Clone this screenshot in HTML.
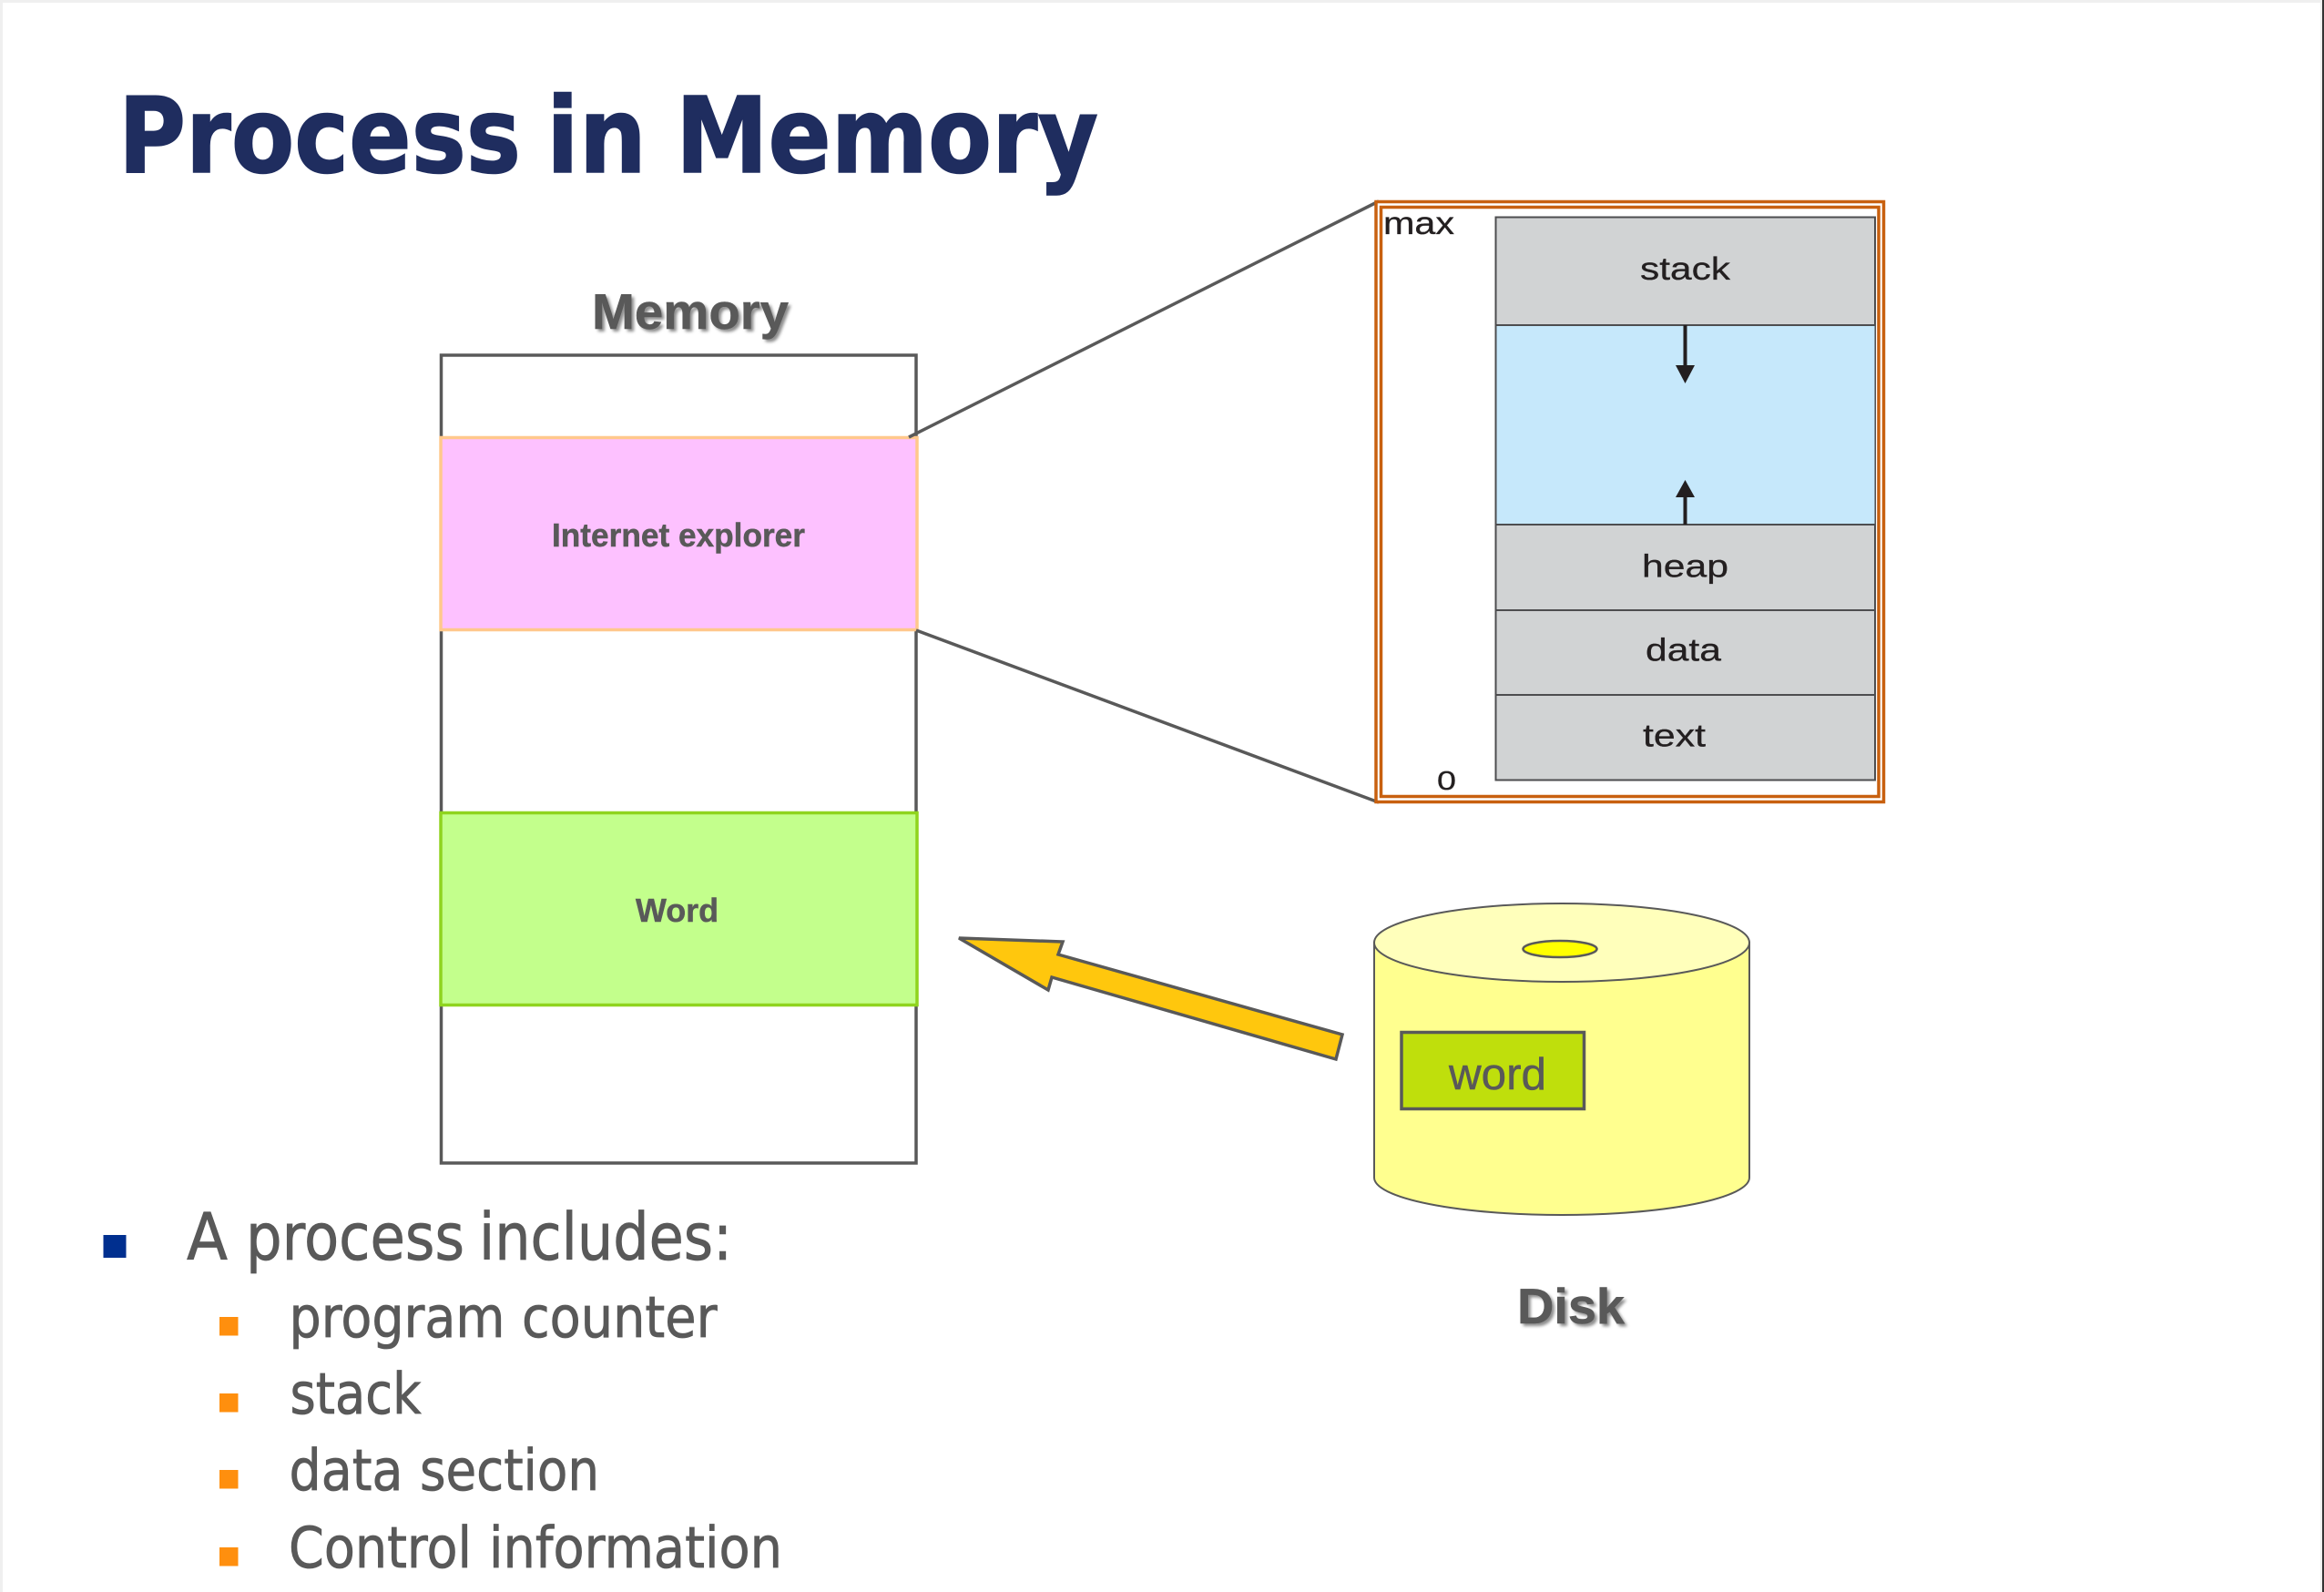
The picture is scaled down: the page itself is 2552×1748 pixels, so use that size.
<!DOCTYPE html>
<html>
<head>
<meta charset="utf-8">
<title>Process in Memory</title>
<style>
html,body{margin:0;padding:0;background:#fff;width:2552px;height:1748px;overflow:hidden}
svg{display:block}
text{white-space:pre}
.t{font-family:"DejaVu Sans",sans-serif;font-weight:bold;font-size:115px;fill:#1f2d5f;stroke:#1f2d5f;stroke-width:1.5px}
.v{font-family:"DejaVu Sans",sans-serif;fill:#595959;stroke:#595959;stroke-width:.8px}
.s{font-family:"Liberation Sans",sans-serif;fill:#231f20;font-size:35px;stroke:#231f20;stroke-width:.3px}
.b{font-family:"Liberation Sans",sans-serif;font-weight:bold;fill:#595959;stroke:#595959;stroke-width:.5px}
</style>
</head>
<body>
<svg xmlns="http://www.w3.org/2000/svg" width="2552" height="1748" viewBox="0 0 2552 1748">
<defs>
<filter id="sh" x="-10%" y="-20%" width="120%" height="150%"><feGaussianBlur stdDeviation="1.5"/></filter>
</defs>
<rect x="0" y="0" width="2552" height="1748" fill="#ffffff"/>
<rect x="0" y="0" width="2552" height="3" fill="#efefef"/>
<rect x="0" y="0" width="3" height="1748" fill="#efefef"/>
<rect x="2548" y="0" width="2" height="1748" fill="#efefef"/>
<rect x="2550" y="0" width="2" height="1748" fill="#333333"/>

<text x="130" y="189" class="t" textLength="442" lengthAdjust="spacingAndGlyphs">Process</text>
<text x="600" y="189" class="t" textLength="110" lengthAdjust="spacingAndGlyphs">in</text>
<text x="742" y="189" class="t" textLength="464" lengthAdjust="spacingAndGlyphs">Memory</text>

<text x="653" y="364" font-family="'Liberation Sans',sans-serif" font-weight="bold" font-size="55" fill="#8c8c8c" filter="url(#sh)" textLength="216" lengthAdjust="spacingAndGlyphs">Memory</text>
<text x="650" y="361" class="b" font-size="55" textLength="216" lengthAdjust="spacingAndGlyphs">Memory</text>

<rect x="484.5" y="390" width="521.5" height="887" fill="#ffffff" stroke="#595959" stroke-width="3.5"/>
<rect x="484" y="480.5" width="523" height="211" fill="#fdc1ff" stroke="#ffc88c" stroke-width="3.5"/>
<text x="606" y="600" class="b" font-size="36" textLength="278" lengthAdjust="spacingAndGlyphs">Internet explorer</text>
<rect x="484" y="892.5" width="523" height="211" fill="#c3ff8c" stroke="#8fd41e" stroke-width="3.5"/>
<text x="698" y="1012" class="b" font-size="36" textLength="91" lengthAdjust="spacingAndGlyphs">Word</text>

<line x1="998" y1="480" x2="1514" y2="221" stroke="#595959" stroke-width="3.5"/>
<line x1="1006" y1="692" x2="1514" y2="881" stroke="#595959" stroke-width="3.5"/>

<rect x="1511" y="221.5" width="557.5" height="659" fill="#ffffff" stroke="#c8600f" stroke-width="3.5"/>
<rect x="1516.5" y="227.5" width="546.5" height="647" fill="none" stroke="#c8600f" stroke-width="3.5"/>

<rect x="1642.5" y="238.5" width="416.5" height="618" fill="#d1d3d4" stroke="#4d4d4f" stroke-width="2"/>
<rect x="1643.5" y="357" width="415" height="219" fill="#c6e8fb"/>
<line x1="1642" y1="357" x2="2059" y2="357" stroke="#4d4d4f" stroke-width="2"/>
<line x1="1642" y1="576" x2="2059" y2="576" stroke="#4d4d4f" stroke-width="2"/>
<line x1="1642" y1="670" x2="2059" y2="670" stroke="#4d4d4f" stroke-width="2"/>
<line x1="1642" y1="763" x2="2059" y2="763" stroke="#4d4d4f" stroke-width="2"/>

<line x1="1850.5" y1="357" x2="1850.5" y2="405" stroke="#231f20" stroke-width="4"/>
<polygon points="1840,401 1861,401 1850.5,421" fill="#231f20"/>
<line x1="1850.5" y1="576" x2="1850.5" y2="542" stroke="#231f20" stroke-width="4"/>
<polygon points="1840,546 1861,546 1850.5,527" fill="#231f20"/>

<text x="1519" y="257" class="s" textLength="78" lengthAdjust="spacingAndGlyphs">max</text>
<text x="1801" y="307" class="s" textLength="99" lengthAdjust="spacingAndGlyphs">stack</text>
<text x="1803" y="633.5" class="s" textLength="95" lengthAdjust="spacingAndGlyphs">heap</text>
<text x="1807" y="725.5" class="s" textLength="83" lengthAdjust="spacingAndGlyphs">data</text>
<text x="1804" y="819.5" class="s" textLength="69" lengthAdjust="spacingAndGlyphs">text</text>
<text x="1578" y="867" class="s" style="font-size:29px" textLength="21" lengthAdjust="spacingAndGlyphs">0</text>

<polygon points="1053,1030 1167,1034 1162,1048 1474,1136 1467,1163 1155,1073 1151,1087" fill="#ffc70d" stroke="#595959" stroke-width="3.5"/>

<path d="M1509,1035 L1509,1293 A206,41 0 0 0 1921,1293 L1921,1035 Z" fill="#ffff8f" stroke="#595959" stroke-width="2"/>
<ellipse cx="1715" cy="1035" rx="206" ry="43" fill="#ffffbb" stroke="#595959" stroke-width="2"/>
<ellipse cx="1713" cy="1042" rx="40.5" ry="9" fill="#ffff00" stroke="#595959" stroke-width="2.5"/>
<rect x="1539" y="1133.5" width="200.5" height="84" fill="#bfdf0c" stroke="#595959" stroke-width="3.5"/>
<text x="1591" y="1196" font-family="'Liberation Sans',sans-serif" font-size="49" fill="#595959" stroke="#595959" stroke-width=".5" textLength="107" lengthAdjust="spacingAndGlyphs">word</text>

<text x="1669" y="1456" font-family="'Liberation Sans',sans-serif" font-weight="bold" font-size="55" fill="#8c8c8c" filter="url(#sh)" textLength="118" lengthAdjust="spacingAndGlyphs">Disk</text>
<text x="1666" y="1453" class="b" font-size="55" textLength="118" lengthAdjust="spacingAndGlyphs">Disk</text>

<rect x="113.5" y="1356" width="25" height="25" fill="#002f8f"/>
<text x="205" y="1383" class="v" font-size="71" textLength="45" lengthAdjust="spacingAndGlyphs">A</text>
<text x="270" y="1383" class="v" font-size="71" textLength="240" lengthAdjust="spacingAndGlyphs">process</text>
<text x="526" y="1383" class="v" font-size="71" textLength="278" lengthAdjust="spacingAndGlyphs">includes:</text>

<rect x="241" y="1446" width="20.5" height="20.5" fill="#ff8f0e"/>
<text x="317.5" y="1468" class="v" font-size="62" textLength="237" lengthAdjust="spacingAndGlyphs">program</text>
<text x="573" y="1468" class="v" font-size="62" textLength="214.5" lengthAdjust="spacingAndGlyphs">counter</text>
<rect x="241" y="1530" width="20.5" height="20.5" fill="#ff8f0e"/>
<text x="318.5" y="1552" class="v" font-size="62" textLength="144" lengthAdjust="spacingAndGlyphs">stack</text>
<rect x="241" y="1614" width="20.5" height="20.5" fill="#ff8f0e"/>
<text x="317.5" y="1636" class="v" font-size="62" textLength="125" lengthAdjust="spacingAndGlyphs">data</text>
<text x="461" y="1636" class="v" font-size="62" textLength="197" lengthAdjust="spacingAndGlyphs">section</text>
<rect x="241" y="1699" width="20.5" height="20.5" fill="#ff8f0e"/>
<text x="317" y="1721" class="v" font-size="62" textLength="201" lengthAdjust="spacingAndGlyphs">Control</text>
<text x="537" y="1721" class="v" font-size="62" textLength="322" lengthAdjust="spacingAndGlyphs">information</text>
</svg>
</body>
</html>
